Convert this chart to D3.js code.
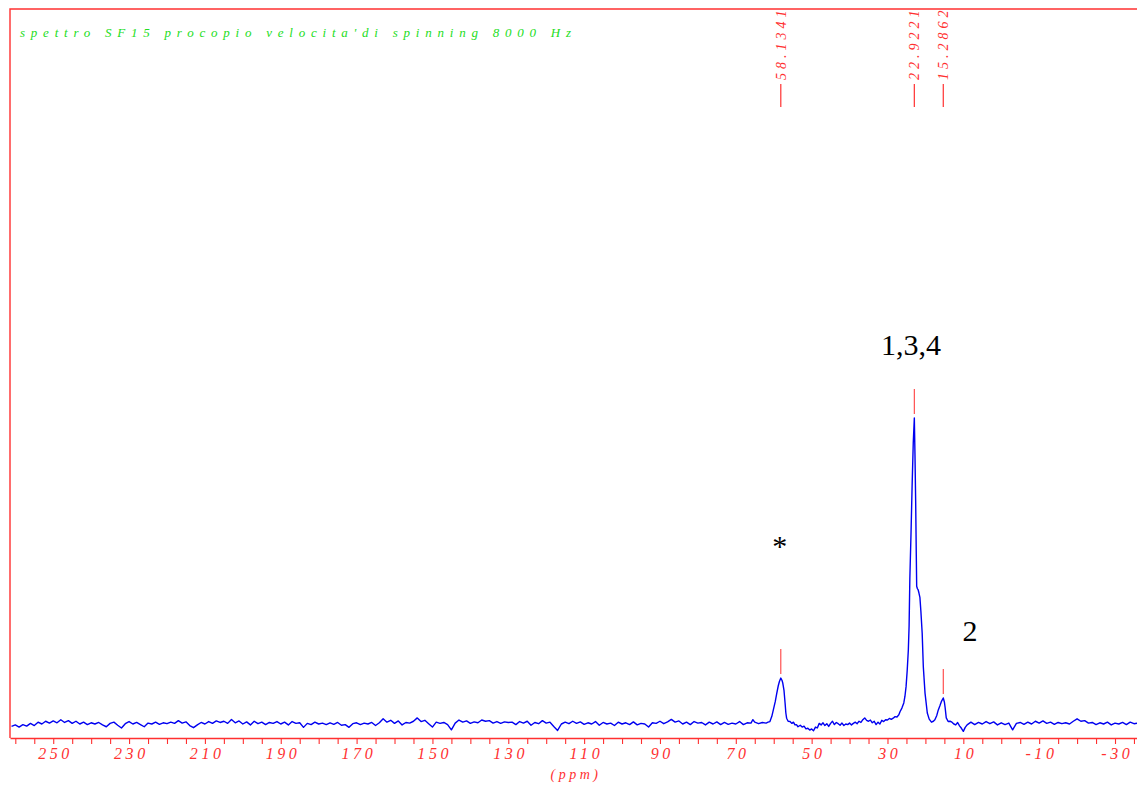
<!DOCTYPE html>
<html>
<head>
<meta charset="utf-8">
<script src="https://cdn.jsdelivr.net/npm/d3@7"></script>
<style>
  html, body { margin: 0; padding: 0; background: #ffffff; }
  svg { display: block; }
</style>
</head>
<body>
<svg id="chart" width="1137" height="785"></svg>
<script>
// 13C CP-MAS spectrum, sample SF15, spinning rate 8000 Hz
const title = "spettro SF15 procopio velocita'di spinning 8000 Hz";

// [chemical shift (ppm), relative intensity (tallest peak = 100)]
const spectrum = [
  [261,-0.8],[260,-0.3],[259,-1.0],[258,-0.2],[257,-0.7],[256,0.2],[255,-0.5],[254,0.6],[253,0.0],[252,0.9],
  [251,0.3],[250,1.0],[249,0.4],[248,1.4],[247,0.5],[246,1.1],[245,0.2],[244,0.9],[243,0.0],[242,0.6],
  [241,-0.2],[240,0.4],[239,0.0],[238,0.5],[237,-0.3],[236,-0.9],[235,0.2],[234,0.6],[233,-0.4],[232,-1.3],
  [231,0.1],[230,0.8],[229,0.0],[228,0.5],[227,-0.2],[226,-0.9],[225,0.3],[224,0.0],[223,0.6],[222,-0.1],
  [221,0.4],[220,0.1],[219,0.6],[218,0.2],[217,1.1],[216,0.3],[215,0.7],[214,-0.5],[213,-1.2],[212,-0.3],
  [211,0.5],[210,0.0],[209,0.8],[208,0.2],[207,1.0],[206,0.5],[205,0.9],[204,0.2],[203,1.5],[202,0.4],
  [201,1.0],[200,0.0],[199,0.7],[198,-0.3],[197,0.9],[196,0.1],[195,0.6],[194,-0.2],[193,0.5],[192,0.2],
  [191,0.8],[190,0.0],[189,0.6],[188,-0.3],[187,0.8],[186,0.2],[185,0.4],[184,-1.1],[183,0.2],[182,-0.2],
  [181,0.6],[180,0.0],[179,0.3],[178,-0.2],[177,0.4],[176,-0.1],[175,0.5],[174,-0.4],[173,-0.2],[172,-1.1],
  [171,0.1],[170,0.4],[169,-0.2],[168,0.3],[167,0.0],[166,0.5],[165,-0.5],[164,0.4],[163,1.7],[162,0.6],
  [161,1.2],[160,0.2],[159,1.0],[158,-0.3],[157,0.5],[156,0.3],[155,0.9],[154,2.0],[153,0.8],[152,1.2],
  [151,0.1],[150,-1.0],[149,0.6],[148,0.2],[147,0.5],[146,-0.2],[145,-1.9],[144,0.3],[143,1.3],[142,0.6],
  [141,1.0],[140,0.2],[139,0.7],[138,0.4],[137,1.3],[136,0.9],[135,1.1],[134,0.3],[133,0.8],[132,0.2],
  [131,0.7],[130,0.5],[129,0.6],[128,-0.2],[127,0.8],[126,0.3],[125,0.9],[124,-0.4],[123,0.5],[122,0.1],
  [121,1.1],[120,0.3],[119,0.6],[118,-0.8],[117,-2.1],[116,0.0],[115,0.6],[114,0.1],[113,0.9],[112,0.2],
  [111,0.7],[110,-0.1],[109,0.4],[108,0.0],[107,0.8],[106,-0.4],[105,0.5],[104,0.0],[103,0.3],[102,-0.5],
  [101,0.6],[100,0.0],[99,0.4],[98,-0.2],[97,0.7],[96,-0.3],[95,0.2],[94,0.0],[93,-1.0],[92,0.4],
  [91,0.2],[90,0.9],[89,0.1],[88,0.7],[87,1.5],[86,0.6],[85,1.0],[84,0.0],[83,0.6],[82,-0.2],
  [81,0.8],[80,0.3],[79,0.5],[78,-0.3],[77,0.6],[76,0.0],[75,0.7],[74,-0.2],[73,0.5],[72,-0.1],
  [71,0.3],[70,0.0],[69,0.8],[68,-0.2],[67,0.4],[66,0.3],[65.5,1.4],[65,0.6],[64,0.1],[63,0.5],
  [62,0.3],[61.5,0.6],[61,0.8],[60.5,2.5],[60.1,4.6],[59.6,7.3],[59.2,10.0],[58.8,12.5],[58.5,13.9],[58.13,15.0],
  [57.8,14.2],[57.6,13.3],[57.3,11.1],[57.0,6.8],[56.8,3.6],[56.6,1.9],[56.2,0.9],[55.7,0.8],[55.2,0.2],[54.8,0.6],
  [54.4,-0.3],[54.0,-0.2],[53.6,-0.9],[53,-0.4],[52.5,-1.0],[52,-0.7],[51.5,-1.6],[51,-1.4],[50.5,-2.0],[50,-1.6],
  [49.5,-2.2],[49,-1.0],[48.5,-1.3],[48,0.2],[47.5,-0.3],[47,0.4],[46.5,-0.5],[46,0.1],[45.5,-0.8],[45,0.2],
  [44.5,0.9],[44,-0.2],[43.5,0.5],[43,0.1],[42.5,-0.4],[42,0.3],[41.5,-0.5],[41,0.0],[40.5,-0.2],[40,0.3],
  [39.5,-0.3],[39,0.2],[38.5,0.6],[38,0.1],[37.5,0.9],[37,0.5],[36.5,1.4],[36,2.0],[35.5,1.2],[35,0.9],
  [34.5,1.3],[34,0.4],[33.5,0.9],[33,-0.2],[32.5,0.6],[32,0.0],[31.5,1.2],[31,0.8],[30.5,1.4],[30,1.3],
  [29.5,1.8],[29,1.5],[28.5,1.9],[28,2.4],[27.5,2.3],[27,3.0],[26.7,4.0],[26.2,5.2],[25.7,6.9],[25.4,9.0],
  [25.1,12.2],[24.8,17.5],[24.5,24.2],[24.3,32],[24.1,47.7],[23.8,62],[23.5,78],[23.2,92],[22.92,100],[22.75,88],
  [22.57,73],[22.4,55],[22.3,45],[22.1,44.2],[21.9,43.8],[21.7,42.8],[21.45,41.4],[21.2,37],[20.85,29.7],[20.55,18.7],
  [20.1,10.1],[19.5,3.6],[19.0,1.6],[18.4,0.6],[17.9,0.9],[17.5,1.4],[17.0,2.8],[16.6,4.6],[16.2,5.9],[15.8,7.3],
  [15.29,8.5],[15.0,7.2],[14.8,5.4],[14.5,2.0],[14.0,0.8],[13.5,0.9],[13.0,0.6],[12.5,0.0],[12.0,-0.3],[11.5,0.5],
  [11.0,-0.6],[10.5,-1.4],[10.0,-2.4],[9.5,-1.1],[9.0,-0.3],[8,0.6],[7,-0.2],[6,0.5],[5,0.0],[4,0.8],
  [3,0.1],[2,0.7],[1,-0.3],[0,0.4],[-1,-0.2],[-2,0.3],[-3,-1.9],[-4,0.2],[-5,0.5],[-6,-0.1],
  [-7,0.6],[-8,0.0],[-9,0.9],[-10,0.3],[-11,1.0],[-12,0.2],[-13,0.6],[-14,-0.1],[-15,0.5],[-16,0.1],
  [-17,0.4],[-18,0.0],[-19,0.9],[-20,1.7],[-21,0.9],[-22,1.1],[-23,0.3],[-24,0.5],[-25,-0.2],[-26,0.4],
  [-27,0.0],[-28,0.6],[-29,-0.3],[-30,0.3],[-31,0.0],[-32,0.5],[-33,-0.2],[-34,0.6],[-35,0.1],[-36,0.3]
];

// picked peaks
const peakShifts = [58.1341, 22.9221, 15.2862];
const peakLabels = ["58.1341", "22.9221", "15.2862"];
const peakHeights = [15.0, 100, 8.5];

// assignments written on the spectrum: [text, ppm, intensity]
const assignments = [["1,3,4", 23.8, 120.6], ["*", 58.4, 54.9], ["2", 8.25, 27.1]];

// axis ticks every 5 ppm, numbers every 20 ppm
const tickValues = d3.range(260, -36, -5);
const tickLabels = [250, 230, 210, 190, 170, 150, 130, 110, 90, 70, 50, 30, 10, -10, -30];
const axisTitle = "(ppm)";

const svg = d3.select("#chart");
const frame = { left: 10, top: 9, right: 1137, bottom: 738 };
const red = "#ff3030";
const serif = "'Liberation Serif', 'DejaVu Serif', serif";

const x = d3.scaleLinear().domain([261.4, -35.8]).range([frame.left, frame.right]);
const y = d3.scaleLinear().domain([0, 100]).range([724, 418]);

svg.append("clipPath").attr("id", "frameClip")
  .append("rect").attr("x", 0).attr("y", frame.top)
  .attr("width", 1137).attr("height", frame.bottom - frame.top);

// frame: left and top edges
svg.append("path")
  .attr("d", `M${frame.left},${frame.bottom}V${frame.top}H${frame.right}`)
  .attr("fill", "none").attr("stroke", red).attr("stroke-width", 1.4);

// bottom ppm axis
const axis = d3.axisBottom(x)
  .tickValues(tickValues)
  .tickSize(6)
  .tickSizeOuter(0)
  .tickFormat(d => tickLabels.includes(d) ? String(d) : "");
const gAxis = svg.append("g")
  .attr("transform", `translate(0,${frame.bottom})`)
  .call(axis);
gAxis.select(".domain").attr("stroke", red).attr("stroke-width", 1.4);
gAxis.selectAll(".tick line").attr("stroke", red).attr("stroke-width", 1.1);
gAxis.selectAll(".tick text")
  .attr("y", 21).attr("dy", 0)
  .attr("fill", red)
  .attr("font-family", serif)
  .attr("font-style", "italic")
  .attr("font-size", 16)
  .attr("letter-spacing", "3.6px")
  .attr("text-anchor", "middle")
  .attr("dx", "1.8px");

svg.append("text")
  .attr("x", 576).attr("y", 779)
  .attr("text-anchor", "middle")
  .attr("fill", red)
  .attr("font-family", serif).attr("font-style", "italic")
  .attr("font-size", 14).attr("letter-spacing", "3.5px")
  .text(axisTitle);

// title
svg.append("text")
  .attr("x", 20).attr("y", 37)
  .attr("fill", "#22dd22")
  .attr("font-family", serif).attr("font-style", "italic")
  .attr("font-size", 13)
  .attr("textLength", 551).attr("lengthAdjust", "spacing")
  .text(title);

// spectrum trace
const line = d3.line().x(d => x(d[0])).y(d => y(d[1]));
svg.append("path")
  .datum(spectrum)
  .attr("d", line)
  .attr("fill", "none")
  .attr("stroke", "#0000f0")
  .attr("stroke-width", 1.4)
  .attr("stroke-linejoin", "round");

// peak picking: shift labels along the top, ticks above each peak maximum
const gPeaks = svg.append("g").attr("clip-path", "url(#frameClip)");
peakShifts.forEach((p, i) => {
  const px = x(p);
  gPeaks.append("text")
    .attr("transform", `translate(${px},80) rotate(-90)`)
    .attr("dy", "0.35em")
    .attr("fill", red)
    .attr("font-family", serif).attr("font-style", "italic")
    .attr("font-size", 14).attr("letter-spacing", "4px")
    .text(peakLabels[i]);
  gPeaks.append("line")
    .attr("x1", px).attr("x2", px).attr("y1", 84).attr("y2", 107)
    .attr("stroke", red).attr("stroke-width", 1.2);
  const top = y(peakHeights[i]);
  gPeaks.append("line")
    .attr("x1", px).attr("x2", px).attr("y1", top - 29).attr("y2", top - 4)
    .attr("stroke", "#ff4040").attr("stroke-width", 1.1);
});

// assignment labels
svg.append("g").selectAll("text")
  .data(assignments)
  .join("text")
  .attr("x", d => x(d[1]))
  .attr("y", d => y(d[2]))
  .attr("text-anchor", "middle")
  .attr("fill", "#000000")
  .attr("font-family", serif)
  .attr("font-size", 30)
  .text(d => d[0]);
</script>
</body>
</html>
